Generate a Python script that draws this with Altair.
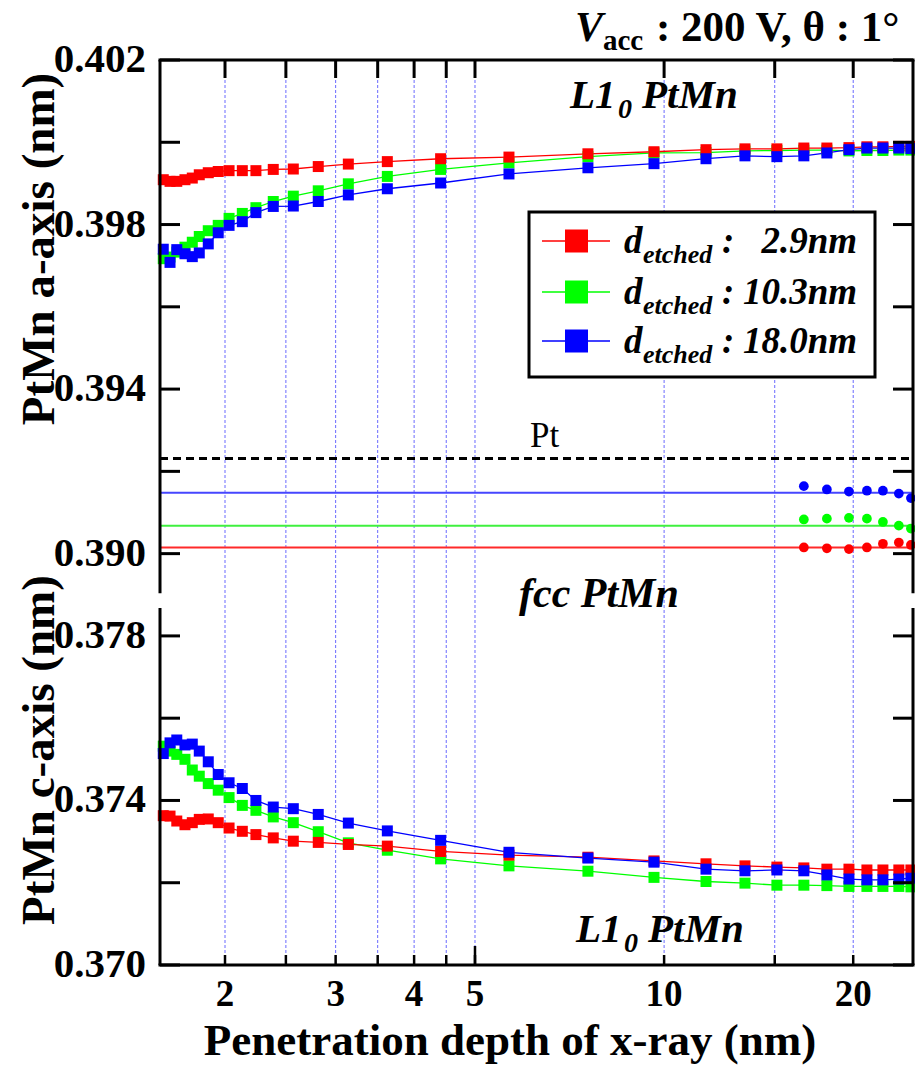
import altair as alt
import pandas as pd

# Penetration depth of the x-ray (nm), one entry per incidence angle
depth = [1.595, 1.635, 1.676, 1.727, 1.774, 1.820, 1.881, 1.951, 2.030, 2.131,
         2.240, 2.387, 2.569, 2.815, 3.143, 3.626, 4.408, 5.663, 7.564, 9.636,
         11.66, 13.45, 15.12, 16.69, 18.16, 19.69, 21.03, 22.30, 23.64, 24.71]

# L1_0 PtMn a-axis (nm) for each etched thickness
a_2p9 = [0.39909, 0.39905, 0.39905, 0.39909, 0.39913, 0.39921, 0.39926, 0.39929, 0.39931, 0.39931,
         0.39931, 0.39934, 0.39935, 0.39941, 0.39947, 0.39953, 0.39960, 0.39964, 0.39972, 0.39977,
         0.39982, 0.39984, 0.39984, 0.39986, 0.39986, 0.39987, 0.39989, 0.39989, 0.39990, 0.39990]
a_10p3 = [0.39717, 0.39721, 0.39733, 0.39745, 0.39757, 0.39771, 0.39785, 0.39798, 0.39815, 0.39827,
          0.39841, 0.39856, 0.39869, 0.39882, 0.39899, 0.39917, 0.39934, 0.39950, 0.39965, 0.39974,
          0.39975, 0.39979, 0.39980, 0.39981, 0.39981, 0.39979, 0.39980, 0.39980, 0.39981, 0.39981]
a_18p0 = [0.39740, 0.39708, 0.39739, 0.39729, 0.39722, 0.39731, 0.39753, 0.39780, 0.39798, 0.39807,
          0.39829, 0.39844, 0.39845, 0.39856, 0.39872, 0.39887, 0.39901, 0.39923, 0.39938, 0.39948,
          0.39960, 0.39967, 0.39965, 0.39967, 0.39974, 0.39982, 0.39986, 0.39986, 0.39986, 0.39985]

# L1_0 PtMn c-axis (nm)
c_2p9 = [0.37363, 0.37362, 0.37350, 0.37341, 0.37346, 0.37354, 0.37355, 0.37346, 0.37333, 0.37325,
         0.37317, 0.37309, 0.37301, 0.37298, 0.37293, 0.37289, 0.37276, 0.37267, 0.37262, 0.37253,
         0.37246, 0.37241, 0.37238, 0.37236, 0.37233, 0.37233, 0.37231, 0.37231, 0.37231, 0.37231]
c_10p3 = [0.37532, 0.37520, 0.37512, 0.37500, 0.37474, 0.37459, 0.37441, 0.37425, 0.37407, 0.37388,
          0.37376, 0.37360, 0.37346, 0.37324, 0.37297, 0.37279, 0.37258, 0.37241, 0.37228, 0.37213,
          0.37203, 0.37199, 0.37194, 0.37194, 0.37193, 0.37191, 0.37191, 0.37191, 0.37191, 0.37190]
c_18p0 = [0.37514, 0.37540, 0.37547, 0.37535, 0.37537, 0.37520, 0.37494, 0.37463, 0.37443, 0.37429,
          0.37400, 0.37384, 0.37380, 0.37366, 0.37345, 0.37326, 0.37303, 0.37274, 0.37260, 0.37250,
          0.37233, 0.37229, 0.37231, 0.37229, 0.37219, 0.37209, 0.37207, 0.37207, 0.37209, 0.37211]

# fcc PtMn lattice constant (nm), resolved at the deepest angles only
fcc_depth = [16.69, 18.16, 19.69, 21.03, 22.30, 23.64, 24.71]
fcc_2p9 = [0.39015, 0.39013, 0.39011, 0.39015, 0.39024, 0.39027, 0.39021]
fcc_10p3 = [0.39083, 0.39085, 0.39087, 0.39085, 0.39077, 0.39068, 0.39061]
fcc_18p0 = [0.39164, 0.39156, 0.39151, 0.39153, 0.39153, 0.39146, 0.39135]

# Reference levels: Pt and the fcc average of each sample
pt_level = 0.39231
fcc_levels = [0.39015, 0.39068, 0.39148]

series_names = ["2.9", "10.3", "18.0"]
series_labels = ["2.9nm", "10.3nm", "18.0nm"]
series_colors = ["#ff0000", "#00ff00", "#0000ff"]
level_colors = ["#ff2a2a", "#3ff03f", "#4646ff"]

grid_x = [2, 2.5, 3, 3.5, 4, 4.5, 5, 10, 15, 20]
x_labels = [2, 3, 4, 5, 10, 20]
a_ticks = [0.390, 0.392, 0.394, 0.396, 0.398, 0.400, 0.402]
c_ticks = [0.370, 0.372, 0.374, 0.376, 0.378]
a_labels = [0.390, 0.394, 0.398, 0.402]
c_labels = [0.370, 0.374, 0.378]

# Both panels share one y scale: c-axis values are shifted down by C_SHIFT,
# leaving a small break between the a-axis and c-axis ranges.
C_SHIFT = 0.010
A_RANGE = [0.38904, 0.402]
C_RANGE = [0.370, 0.37868]

W, H = 753, 905
SERIF = "Liberation Serif"
ONE = pd.DataFrame({"k": [0]})

xscale = alt.Scale(type="log", domain=[1.576, 24.9], nice=False)
yscale = alt.Scale(domain=[C_RANGE[0] + C_SHIFT, A_RANGE[1]], nice=False, zero=False)
cscale = alt.Scale(domain=series_names, range=series_colors)


def X(field="depth:Q"):
    return alt.X(field, scale=xscale, axis=None)


def Y(field="u:Q"):
    return alt.Y(field, scale=yscale, axis=None)


# measured points (drawn green, red, blue so blue sits on top)
rows = []
for name, a_vals, c_vals in [("10.3", a_10p3, c_10p3), ("2.9", a_2p9, c_2p9), ("18.0", a_18p0, c_18p0)]:
    for d, a in zip(depth, a_vals):
        rows.append({"depth": d, "u": a, "series": name, "panel": "a"})
    for d, c in zip(depth, c_vals):
        rows.append({"depth": d, "u": c + C_SHIFT, "series": name, "panel": "c"})
pts = pd.DataFrame(rows)

fcc_rows = []
for name, vals in [("10.3", fcc_10p3), ("2.9", fcc_2p9), ("18.0", fcc_18p0)]:
    for d, v in zip(fcc_depth, vals):
        fcc_rows.append({"depth": d, "u": v, "series": name})
fcc = pd.DataFrame(fcc_rows)

levels = pd.DataFrame({"u": fcc_levels, "series": series_names, "col": level_colors})
color = alt.Color("series:N", scale=cscale, legend=None)

# vertical dotted grid
xt = pd.DataFrame({"depth": grid_x})
grid = alt.Chart(xt).mark_rule(strokeWidth=1, color="#6a6aff", strokeDash=[3, 2]).encode(
    x=X(), y=alt.value(0), y2=alt.value(H))

lines = alt.Chart(pts).mark_line(strokeWidth=1.3).encode(
    x=X(), y=Y(), color=color, detail="panel:N")
squares = alt.Chart(pts).mark_square(size=121, opacity=1).encode(x=X(), y=Y(), color=color)
circles = alt.Chart(fcc).mark_circle(size=95, opacity=1).encode(x=X(), y=Y(), color=color)

level_lines = alt.Chart(levels).mark_rule(strokeWidth=2).encode(
    y=Y(), x=alt.value(0), x2=alt.value(W), color=alt.Color("col:N", scale=None))
pt_line = alt.Chart(pd.DataFrame({"u": [pt_level]})).mark_rule(
    strokeWidth=3, color="black", strokeDash=[8, 5]).encode(y=Y(), x=alt.value(0), x2=alt.value(W))

# frame: broken left/right spines, top and bottom lines, inward ticks
spines = pd.DataFrame({"y1": [A_RANGE[0], C_RANGE[0] + C_SHIFT], "y2": [A_RANGE[1], C_RANGE[1] + C_SHIFT]})
frame_l = alt.Chart(spines).mark_rule(strokeWidth=3, color="black").encode(
    y=Y("y1:Q"), y2="y2:Q", x=alt.value(0))
frame_r = alt.Chart(spines).mark_rule(strokeWidth=3, color="black").encode(
    y=Y("y1:Q"), y2="y2:Q", x=alt.value(W))
frame_t = alt.Chart(ONE).mark_rule(strokeWidth=3, color="black").encode(
    x=alt.value(-1.5), x2=alt.value(W + 1.5), y=alt.value(0))
frame_b = alt.Chart(ONE).mark_rule(strokeWidth=3, color="black").encode(
    x=alt.value(-1.5), x2=alt.value(W + 1.5), y=alt.value(H))

yt = pd.DataFrame({"u": a_ticks + [c + C_SHIFT for c in c_ticks]})
ticks_l = alt.Chart(yt).mark_rule(strokeWidth=3, color="black").encode(
    y=Y(), x=alt.value(0), x2=alt.value(20))
ticks_r = alt.Chart(yt).mark_rule(strokeWidth=3, color="black").encode(
    y=Y(), x=alt.value(W - 20), x2=alt.value(W))
ticks_t = alt.Chart(xt).mark_rule(strokeWidth=3, color="black").encode(
    x=X(), y=alt.value(0), y2=alt.value(18))
ticks_b = alt.Chart(xt).mark_rule(strokeWidth=2.5, color="black").encode(
    x=X(), y=alt.value(H - 10), y2=alt.value(H))
tick_5 = alt.Chart(pd.DataFrame({"depth": [5]})).mark_rule(strokeWidth=2.5, color="black").encode(
    x=X(), y=alt.value(H - 19), y2=alt.value(H))

# tick labels
xl = pd.DataFrame({"depth": x_labels, "txt": [str(v) for v in x_labels]})
x_tick_labels = alt.Chart(xl).mark_text(
    align="center", baseline="alphabetic", font=SERIF, fontSize=37, fontWeight="bold", color="black").encode(
    x=X(), y=alt.value(H + 41), text="txt:N")
yl = pd.DataFrame({
    "u": a_labels + [c + C_SHIFT for c in c_labels],
    "txt": ["%.3f" % v for v in a_labels] + ["%.3f" % v for v in c_labels],
})
y_tick_labels = alt.Chart(yl).mark_text(
    align="right", baseline="middle", font=SERIF, fontSize=41, fontWeight="bold", color="black").encode(
    x=alt.value(-14), y=Y(), text="txt:N")


def label(text, x, y, size, style="normal", weight="bold", align="left", baseline="alphabetic", angle=0):
    return alt.Chart(ONE).mark_text(
        text=text, font=SERIF, fontSize=size, fontStyle=style, fontWeight=weight,
        align=align, baseline=baseline, angle=angle, color="black").encode(
        x=alt.value(x), y=alt.value(y))


texts = [
    # heading
    label("V", 415, -19, 42, style="italic"),
    label("acc", 443, -10, 29),
    label(": 200 V, \u03b8 : 1\u00b0", 496, -19, 43),
    # phase annotations
    label("L1", 410, 48, 41, style="italic"),
    label("0", 458, 58, 28, style="italic"),
    label("PtMn", 482, 48, 41, style="italic"),
    label("fcc PtMn", 359, 547, 42, style="italic"),
    label("L1", 416, 882, 41, style="italic"),
    label("0", 464, 892, 28, style="italic"),
    label("PtMn", 488, 882, 41, style="italic"),
    label("Pt", 370, 387, 35, weight="normal"),
    # axis titles
    label("PtMn a-axis (nm)", -106, 189, 47, align="center", angle=270),
    label("PtMn c-axis (nm)", -106, 690, 47, align="center", angle=270),
    label("Penetration depth of x-ray (nm)", 350, 995, 45, align="center"),
]

# legend box
leg = pd.DataFrame({"series": series_names, "label": series_labels, "row": [181, 232, 281]})
leg["base"] = leg["row"] + 12
leg["sub"] = leg["row"] + 22
leg_box = alt.Chart(ONE).mark_rect(fill="white", stroke="black", strokeWidth=3).encode(
    x=alt.value(369), x2=alt.value(715), y=alt.value(152), y2=alt.value(317))
leg_line = alt.Chart(leg).mark_rule(strokeWidth=1.5).encode(
    x=alt.value(382), x2=alt.value(450), y=alt.Y("row:Q", scale=None, axis=None), color=color)
leg_sq = alt.Chart(leg).mark_square(size=529, opacity=1).encode(
    x=alt.value(416.5), y=alt.Y("row:Q", scale=None, axis=None), color=color)
txt_kw = dict(font=SERIF, fontStyle="italic", fontWeight="bold", color="black", baseline="alphabetic")
leg_d = alt.Chart(leg).mark_text(text="d", fontSize=37, align="left", **txt_kw).encode(
    x=alt.value(464), y=alt.Y("base:Q", scale=None, axis=None))
leg_sub = alt.Chart(leg).mark_text(text="etched", fontSize=26, align="left", **txt_kw).encode(
    x=alt.value(483), y=alt.Y("sub:Q", scale=None, axis=None))
leg_colon = alt.Chart(leg).mark_text(text=":", fontSize=37, align="left", **txt_kw).encode(
    x=alt.value(562), y=alt.Y("base:Q", scale=None, axis=None))
leg_val = alt.Chart(leg).mark_text(fontSize=37, align="right", **txt_kw).encode(
    x=alt.value(697), y=alt.Y("base:Q", scale=None, axis=None), text="label:N")

chart = alt.layer(
    grid, lines, level_lines, pt_line, squares, circles,
    frame_l, frame_r, frame_t, frame_b, ticks_l, ticks_r, ticks_t, ticks_b, tick_5,
    x_tick_labels, y_tick_labels,
    leg_box, leg_line, leg_sq, leg_d, leg_sub, leg_colon, leg_val,
    *texts,
).properties(
    width=W, height=H,
    background="white",
    autosize=alt.AutoSizeParams(type="none"),
    padding={"left": 160, "top": 60, "right": 2, "bottom": 100},
).configure_view(stroke=None)

chart.save("out.html", embed_options={"renderer": "svg", "actions": False})
